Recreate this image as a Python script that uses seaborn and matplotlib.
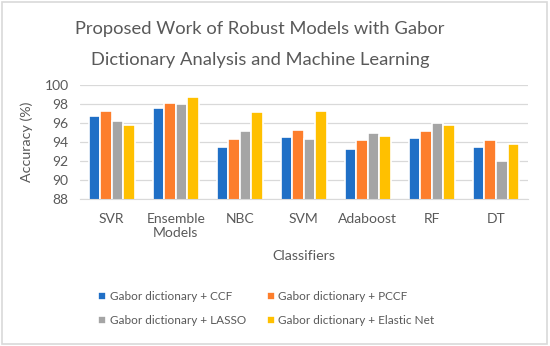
import matplotlib
matplotlib.use("Agg")
import matplotlib.pyplot as plt
import seaborn as sns
import pandas as pd
from matplotlib.patches import Rectangle

classifiers = ["SVR", "Ensemble\nModels", "NBC", "SVM", "Adaboost", "RF", "DT"]
ccf = [96.75, 97.6, 93.45, 94.5, 93.25, 94.4, 93.45]
pccf = [97.2, 98.05, 94.35, 95.3, 94.2, 95.2, 94.2]
lasso = [96.2, 98.0, 95.2, 94.3, 94.9, 96.0, 92.05]
elastic = [95.75, 98.75, 97.1, 97.2, 94.65, 95.75, 93.8]

series = {
    "Gabor dictionary + CCF": ccf,
    "Gabor dictionary + PCCF": pccf,
    "Gabor dictionary + LASSO": lasso,
    "Gabor dictionary + Elastic Net": elastic,
}
colors = ["#1f6fc6", "#fd7e2c", "#a5a5a5", "#ffc000"]

rows = []
for name, vals in series.items():
    for c, v in zip(classifiers, vals):
        rows.append({"Classifier": c, "Method": name, "Accuracy": v})
df = pd.DataFrame(rows)

sns.set_style("white")
plt.rcParams["font.family"] = ["Lato", "DejaVu Sans"]
text_color = "#595959"

fig = plt.figure(figsize=(5.5, 3.46), dpi=100)
ax = fig.add_axes([0.145, 0.424, 0.815, 0.331])

sns.barplot(data=df, x="Classifier", y="Accuracy", hue="Method",
            palette=colors, saturation=1, width=0.72, edgecolor="white",
            linewidth=1.2, ax=ax, legend=True)

ax.set_ylim(88, 100)
ax.set_yticks(range(88, 101, 2))
ax.yaxis.grid(True, color="#d9d9d9", linewidth=0.9)
ax.set_axisbelow(True)
for s in ["top", "right", "left"]:
    ax.spines[s].set_visible(False)
ax.spines["bottom"].set_color("#d9d9d9")
ax.tick_params(axis="both", length=0, colors=text_color, labelsize=10)
ax.tick_params(axis="x", pad=10)
ax.tick_params(axis="y", pad=8)
ax.set_xlabel("Classifiers", color=text_color, fontsize=10.3, labelpad=8)
ax.set_ylabel("Accuracy (%)", color=text_color, fontsize=10.3, labelpad=8)

# legend filled row by row like the original
handles, labels = ax.get_legend_handles_labels()
order = [0, 2, 1, 3]
ax.legend([handles[i] for i in order], [labels[i] for i in order],
          loc="upper center", bbox_to_anchor=(0.416, -0.71), ncol=2,
          frameon=False, fontsize=8.5, labelcolor=text_color,
          handlelength=0.7, handleheight=0.7, handletextpad=0.3,
          columnspacing=1.75, labelspacing=1.1)

fig.text(0.473, 0.872,
         "Proposed Work of Robust Models with Gabor\nDictionary Analysis and Machine Learning",
         color=text_color, fontsize=13.2, ha="center", va="center",
         linespacing=2.15)

fig.patches.append(Rectangle((0.004, 0.006), 0.99, 0.988, transform=fig.transFigure,
                             fill=False, edgecolor="#d9d9d9", linewidth=1.2))

fig.savefig("out.png", dpi=100)
